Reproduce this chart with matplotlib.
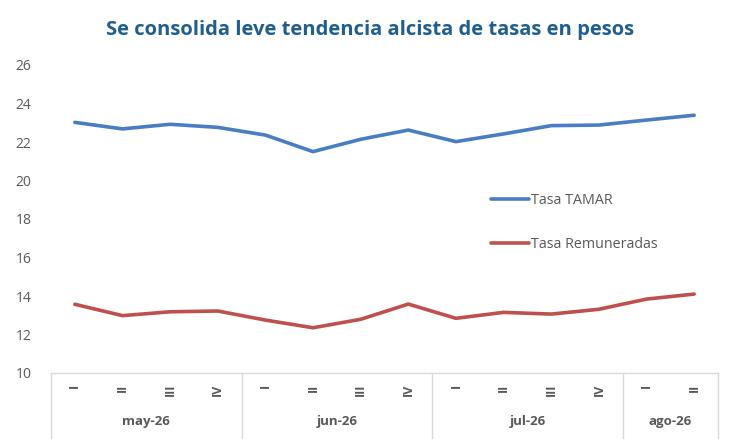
import matplotlib
matplotlib.use("Agg")
import matplotlib.pyplot as plt
import matplotlib.transforms as mtransforms
from matplotlib.lines import Line2D

matplotlib.rcParams['font.family'] = ['Open Sans', 'DejaVu Sans']

# semanas (romanos) y meses
weeks = ["I", "II", "III", "IV", "I", "II", "III", "IV", "I", "II", "III", "IV", "I", "II"]
months = ["may-26", "jun-26", "jul-26", "ago-26"]
month_sizes = [4, 4, 4, 2]

tamar = [23.02, 22.68, 22.92, 22.76, 22.36, 21.50, 22.14, 22.62, 22.02, 22.42, 22.85, 22.88, 23.14, 23.39]
remuneradas = [13.57, 12.98, 13.18, 13.22, 12.75, 12.35, 12.79, 13.58, 12.84, 13.15, 13.06, 13.31, 13.84, 14.10]

title = "Se consolida leve tendencia alcista de tasas en pesos"
label_tamar = "Tasa TAMAR"
label_rem = "Tasa Remuneradas"

blue = "#4A7EC4"
red = "#C0504D"
gray_txt = "#595959"
gray_line = "#D9D9D9"

fig = plt.figure(figsize=(7.41, 4.45), dpi=100)
W, H = 741, 445
ax = fig.add_axes([51 / W, 1 - 373 / H, (718 - 51) / W, (373 - 65) / H])

x = list(range(len(weeks)))
ax.plot(x, tamar, color=blue, lw=2.6, solid_capstyle='round', label=label_tamar)
ax.plot(x, remuneradas, color=red, lw=2.6, solid_capstyle='round', label=label_rem)

ax.set_xlim(-0.5, len(weeks) - 0.5)
ax.set_ylim(10, 26)
ax.set_yticks(range(10, 27, 2))
ax.tick_params(axis='y', length=0, labelsize=10, labelcolor=gray_txt, pad=14)

ax.set_xticks(x)
ax.set_xticklabels(weeks, rotation=90, fontsize=9, color=gray_txt, fontweight='bold')
ax.tick_params(axis='x', length=0, pad=8)

for side in ['top', 'right', 'left']:
    ax.spines[side].set_visible(False)
ax.spines['bottom'].set_color(gray_line)
ax.spines['bottom'].set_linewidth(1)

# separadores y etiquetas de mes
trans = mtransforms.blended_transform_factory(ax.transData, ax.transAxes)
depth = -65 / (373 - 65)
start = -0.5
bounds = [start]
for name, n in zip(months, month_sizes):
    end = start + n
    ax.text((start + end) / 2, -48 / (373 - 65), name, transform=trans,
            ha='center', va='center', fontsize=9.5, fontweight='bold', color=gray_txt)
    bounds.append(end)
    start = end
for b in bounds:
    ax.add_line(Line2D([b, b], [0, depth], transform=trans, color=gray_line,
                       lw=1, clip_on=False))

ax.legend(loc='upper left', bbox_to_anchor=(0.64, 0.625), frameon=False,
          fontsize=10.3, labelspacing=2.0, handlelength=2.7, handletextpad=0.1,
          labelcolor=gray_txt)

fig.text(0.5, 1 - 30 / H, title, ha='center', va='center', fontsize=14.5,
         fontweight='bold', color="#1F5F8F", fontstretch='condensed')

fig.savefig("out.png", dpi=100)
